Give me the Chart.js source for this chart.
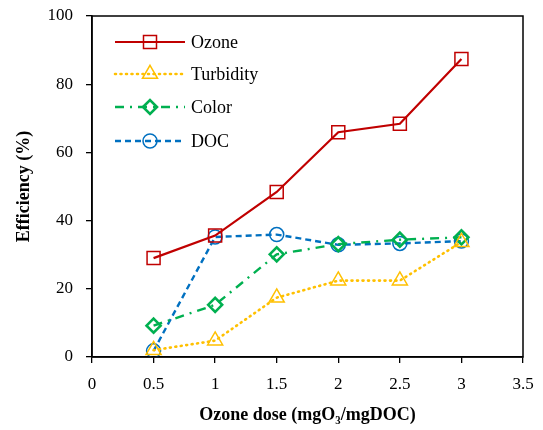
<!DOCTYPE html>
<html><head><meta charset="utf-8">
<script src="https://cdn.jsdelivr.net/npm/chart.js@4/dist/chart.umd.min.js"></script>
<style>html,body{margin:0;padding:0;background:#fff}#wrap{width:543px;height:430px}</style>
</head><body><div id="wrap"><canvas id="c" width="543" height="430"></canvas></div>
<script>
const doses = [0.5, 1, 1.5, 2, 2.5, 3];
const ozone = [29.0, 35.6, 48.4, 65.9, 68.4, 87.4];
const turbidity = [2.0, 4.8, 17.4, 22.4, 22.4, 33.7];
const color = [9.2, 15.3, 30.1, 33.1, 34.4, 35.1];
const doc = [1.8, 35.2, 35.9, 32.9, 33.3, 34.0];
const seriesNames = ['Ozone', 'Turbidity', 'Color', 'DOC'];
const xTicks = [0, 0.5, 1, 1.5, 2, 2.5, 3, 3.5];
const yTicks = [0, 20, 40, 60, 80, 100];

const F = '"Liberation Serif", "Times New Roman", serif';
const pts = arr => arr.map((v, i) => ({x: doses[i], y: v}));

const styles = [
  {c:'#C00000', dash:[], w:2.2, ps:'rect', r:9.2, bw:1.5, cap:'butt'},
  {c:'#FFC000', dash:[1,4.5], w:2.6, ps:'triangle', r:8.7, bw:1.5, cap:'round'},
  {c:'#00B050', dash:[9,6,2,6], w:2.4, ps:'rectRot', r:7, bw:2.6, cap:'butt'},
  {c:'#0070C0', dash:[6,4], w:2.4, ps:'circle', r:7, bw:1.5, cap:'butt'}
];
const vals = [ozone, turbidity, color, doc];

const datasets = vals.map((v, i) => ({
  label: seriesNames[i],
  data: pts(v),
  borderColor: styles[i].c,
  backgroundColor: 'rgba(0,0,0,0)',
  borderWidth: styles[i].w,
  borderDash: styles[i].dash,
  borderCapStyle: styles[i].cap,
  pointStyle: styles[i].ps,
  pointRadius: styles[i].r,
  pointBorderWidth: styles[i].bw,
  pointBorderColor: styles[i].c,
  pointBackgroundColor: 'rgba(0,0,0,0)',
  tension: 0
}));

const boxPlugin = {
  id: 'box',
  afterDraw(chart) {
    const {ctx, chartArea: a} = chart;
    ctx.save();
    ctx.strokeStyle = '#000';
    ctx.lineWidth = 1.5;
    ctx.strokeRect(a.left, a.top, a.right - a.left, a.bottom - a.top);
    const rows = [42, 74, 107, 141];
    const x0 = 115, x1 = 185, xm = 150;
    styles.forEach((s, i) => {
      const y = rows[i];
      ctx.save();
      ctx.strokeStyle = s.c;
      ctx.lineWidth = s.w;
      ctx.setLineDash(s.dash);
      ctx.lineCap = s.cap;
      ctx.beginPath(); ctx.moveTo(x0, y); ctx.lineTo(x1, y); ctx.stroke();
      ctx.restore();
      ctx.save();
      ctx.strokeStyle = s.c;
      ctx.lineWidth = s.bw;
      ctx.fillStyle = 'rgba(0,0,0,0)';
      Chart.helpers.drawPoint(ctx, {pointStyle: s.ps, radius: s.r, borderWidth: s.bw}, xm, y);
      ctx.restore();
      ctx.fillStyle = '#000';
      ctx.font = '18px ' + F;
      ctx.textBaseline = 'middle';
      ctx.textAlign = 'left';
      ctx.fillText(seriesNames[i], 191, y + 1);
    });
    ctx.restore();
  }
};

new Chart(document.getElementById('c'), {
  type: 'line',
  data: { datasets },
  plugins: [boxPlugin],
  options: {
    responsive: false,
    animation: false,
    devicePixelRatio: 1,
    layout: { padding: { top: 16, right: 20, left: 10, bottom: 0 } },
    plugins: { legend: { display: false }, tooltip: { enabled: false } },
    scales: {
      x: {
        type: 'linear', min: 0, max: 3.5,
        afterBuildTicks: s => { s.ticks = xTicks.map(v => ({value: v})); },
        afterFit: s => { s.height = 73; s.paddingLeft = 0; s.paddingRight = 0; },
        grid: { drawOnChartArea: false, drawTicks: true, tickLength: 6, color: '#000', lineWidth: 1.3 },
        border: { display: true, color: '#000', width: 1.5 },
        ticks: { color: '#000', font: { family: F, size: 17 }, padding: 11, maxRotation: 0, callback: v => String(v) },
        title: { display: true, text: 'Ozone dose (mgO₃/mgDOC)', color: '#000', font: { family: F, size: 18, weight: 'bold' }, padding: { top: 2 } }
      },
      y: {
        min: 0, max: 100,
        afterBuildTicks: s => { s.ticks = yTicks.map(v => ({value: v})); },
        afterFit: s => { s.width = 82; s.paddingTop = 0; s.paddingBottom = 0; },
        grid: { drawOnChartArea: false, drawTicks: true, tickLength: 6, color: '#000', lineWidth: 1.3 },
        border: { display: true, color: '#000', width: 1.5 },
        ticks: { color: '#000', font: { family: F, size: 17 }, padding: 13, callback: v => String(v) },
        title: { display: true, text: 'Efficiency (%)', color: '#000', font: { family: F, size: 18, weight: 'bold' }, padding: { bottom: 8 } }
      }
    }
  }
});
</script></body></html>
